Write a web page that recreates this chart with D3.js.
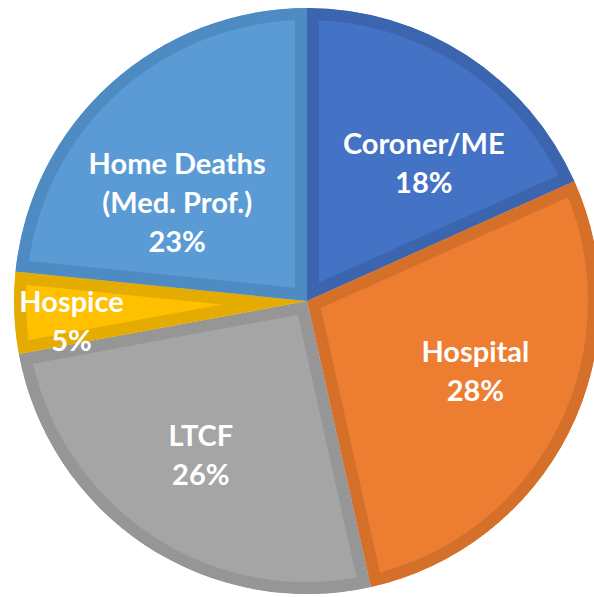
<!DOCTYPE html>
<html>
<head>
<meta charset="utf-8">
<script src="https://cdn.jsdelivr.net/npm/d3@7"></script>
<style>
  html, body { margin: 0; padding: 0; background: #fff; }
  svg { display: block; }
</style>
</head>
<body>
<svg id="chart"></svg>
<script>
// Data (clockwise from 12 o'clock)
const categories = ['Coroner/ME', 'Hospital', 'LTCF', 'Hospice', 'Home Deaths']
const labelLines = [['Coroner/ME'], ['Hospital'], ['LTCF'], ['Hospice'], ['Home Deaths', '(Med. Prof.)']]
const values = [18.3, 28.2, 25.6, 4.5, 23.4]

const fills = ['#4472C4', '#ED7D31', '#A5A5A5', '#FFC000', '#5B9BD5']
const borders = ['#3C65B0', '#D5702B', '#969696', '#E4AC00', '#4F8BC3']

const width = 594
const height = 597
const cx = 307
const cy = 301
const radius = 293
const borderWidth = 12
const fontSize = 29
const lineHeight = 39

// label nudges (px) from the arc label point, like Excel's best-fit placement
const nudges = [[18, 15], [6, -11], [-6, 3], [-54, 13], [-8, 36]]

const svg = d3.select('#chart').attr('width', width).attr('height', height)

const pie = d3.pie().sort(null).value(d => d)
const arcs = pie(values)

const arc = d3.arc().innerRadius(0).outerRadius(radius)
const labelArc = d3.arc().innerRadius(radius * 0.62).outerRadius(radius * 0.62)

const defs = svg.append('defs')
const g = svg.append('g').attr('transform', `translate(${cx},${cy})`)

arcs.forEach((a, i) => {
  defs.append('clipPath')
    .attr('id', 'clip-' + i)
    .append('path')
    .attr('d', arc(a))
})

g.selectAll('.slice')
  .data(arcs)
  .enter()
  .append('path')
  .attr('class', 'slice')
  .attr('d', arc)
  .attr('fill', (d, i) => fills[i])
  .attr('stroke', (d, i) => borders[i])
  .attr('stroke-width', borderWidth * 2)
  .attr('stroke-linejoin', 'miter')
  .attr('clip-path', (d, i) => `url(#clip-${i})`)

// Labels
const labels = g.selectAll('.label')
  .data(arcs)
  .enter()
  .append('text')
  .attr('class', 'label')
  .attr('text-anchor', 'middle')
  .style('font-family', 'Lato, "Open Sans", sans-serif')
  .style('font-weight', 'bold')
  .style('font-size', fontSize + 'px')
  .attr('fill', '#fff')

labels.each(function(d, i) {
  const [lx, ly] = labelArc.centroid(d)
  const x = lx + nudges[i][0]
  const y = ly + nudges[i][1]
  const lines = labelLines[i].concat([Math.round(values[i]) + '%'])
  const capH = fontSize * 0.72
  const blockH = (lines.length - 1) * lineHeight + capH
  const firstBase = y - blockH / 2 + capH
  lines.forEach((t, k) => {
    d3.select(this)
      .append('tspan')
      .attr('x', x)
      .attr('y', firstBase + k * lineHeight)
      .text(t)
  })
})
</script>
</body>
</html>
